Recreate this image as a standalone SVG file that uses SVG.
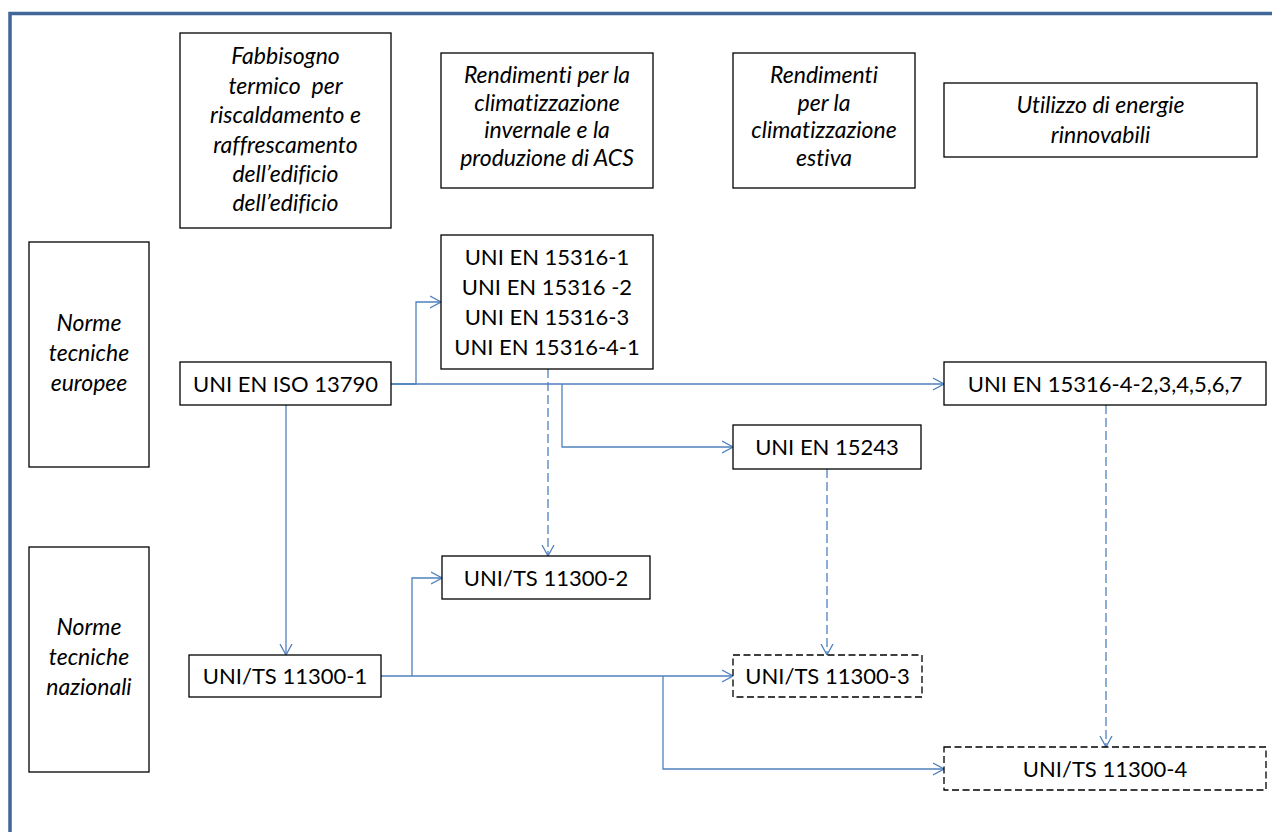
<svg xmlns="http://www.w3.org/2000/svg" width="1272" height="832" viewBox="0 0 1272 832">
  <defs>
    <style>
      .box { fill: #ffffff; stroke: #000000; stroke-width: 1.3; }
      .dbox { fill: #ffffff; stroke: #000000; stroke-width: 1.3; stroke-dasharray: 7 3.5; }
      .it { font-family: Lato, "Liberation Sans", sans-serif; font-style: italic; font-size: 23px; fill: #000000; text-anchor: middle; white-space: pre; font-variant-ligatures: none; font-feature-settings: "liga" 0, "dlig" 0; }
      .tx { font-family: Lato, "Liberation Sans", sans-serif; font-size: 22px; fill: #000000; text-anchor: middle; font-variant-ligatures: none; }
      .con { fill: none; stroke: #4f81bd; stroke-width: 1.3; marker-end: url(#arr); }
      .dash { fill: none; stroke: #4f81bd; stroke-width: 1.3; stroke-dasharray: 9 4; marker-end: url(#arr); }
      .frame { fill: none; stroke: #41669a; stroke-width: 3.5; }
    </style>
    <marker id="arr" markerUnits="userSpaceOnUse" viewBox="0 0 12 14" refX="11.5" refY="7" markerWidth="12" markerHeight="14" orient="auto">
      <path d="M0.5,1 L11.5,7 L0.5,13" fill="none" stroke="#4f81bd" stroke-width="1.3"/>
    </marker>
  </defs>

  <g id="frame">
    <path class="frame" d="M10,832 V13.5 H1272"/>
  </g>

  <g id="connectors">
    <path class="con" d="M391,384 H416 V302 H441"/>
    <path class="con" d="M391,384 H944"/>
    <path class="con" d="M562,384 V447 H733"/>
    <path class="dash" d="M548,369 V556"/>
    <path class="con" d="M286,405 V655"/>
    <path class="con" d="M381,676 H733"/>
    <path class="con" d="M412,676 V578 H442"/>
    <path class="con" d="M663,676 V769 H944"/>
    <path class="dash" d="M827,469 V655"/>
    <path class="dash" d="M1106,405 V747"/>
  </g>

  <g id="h-fabbisogno">
    <rect class="box" x="180" y="33" width="211" height="195"/>
    <text class="it" x="285.5" y="64">Fabbisogno</text>
    <text class="it" x="285.5" y="93.5">termico  per</text>
    <text class="it" x="285.5" y="123">riscaldamento e</text>
    <text class="it" x="285.5" y="152.5">raffrescamento</text>
    <text class="it" x="285.5" y="182">dell’edificio</text>
    <text class="it" x="285.5" y="211">dell’edificio</text>
  </g>

  <g id="h-invernale">
    <rect class="box" x="441" y="53" width="212" height="135"/>
    <text class="it" x="547" y="83">Rendimenti per la</text>
    <text class="it" x="547" y="110.5">climatizzazione</text>
    <text class="it" x="547" y="138">invernale e la</text>
    <text class="it" x="547" y="165.5">produzione di ACS</text>
  </g>

  <g id="h-estiva">
    <rect class="box" x="733" y="53" width="182" height="135"/>
    <text class="it" x="824" y="83">Rendimenti</text>
    <text class="it" x="824" y="110.5">per la</text>
    <text class="it" x="824" y="138">climatizzazione</text>
    <text class="it" x="824" y="165.5">estiva</text>
  </g>

  <g id="h-rinnovabili">
    <rect class="box" x="944" y="83" width="313" height="74"/>
    <text class="it" x="1100.5" y="113">Utilizzo di energie</text>
    <text class="it" x="1100.5" y="143">rinnovabili</text>
  </g>

  <g id="r-europee">
    <rect class="box" x="29" y="242" width="120" height="225"/>
    <text class="it" x="89" y="331">Norme</text>
    <text class="it" x="89" y="361">tecniche</text>
    <text class="it" x="89" y="391">europee</text>
  </g>

  <g id="r-nazionali">
    <rect class="box" x="29" y="547" width="120" height="225"/>
    <text class="it" x="89" y="635">Norme</text>
    <text class="it" x="89" y="665">tecniche</text>
    <text class="it" x="89" y="695">nazionali</text>
  </g>

  <g id="n-iso13790">
    <rect class="box" x="180" y="362" width="211" height="43"/>
    <text class="tx" x="285.5" y="392">UNI EN ISO 13790</text>
  </g>

  <g id="n-15316">
    <rect class="box" x="441" y="235" width="212" height="134"/>
    <text class="tx" x="547" y="265">UNI EN 15316-1</text>
    <text class="tx" x="547" y="295">UNI EN 15316 -2</text>
    <text class="tx" x="547" y="325">UNI EN 15316-3</text>
    <text class="tx" x="547" y="355">UNI EN 15316-4-1</text>
  </g>

  <g id="n-15316-4-2">
    <rect class="box" x="944" y="362" width="322" height="43"/>
    <text class="tx" x="1105" y="392">UNI EN 15316-4-2,3,4,5,6,7</text>
  </g>

  <g id="n-15243">
    <rect class="box" x="733" y="425" width="188" height="44"/>
    <text class="tx" x="827" y="455">UNI EN 15243</text>
  </g>

  <g id="n-11300-2">
    <rect class="box" x="442" y="556" width="208" height="43"/>
    <text class="tx" x="546" y="586">UNI/TS 11300-2</text>
  </g>

  <g id="n-11300-1">
    <rect class="box" x="189" y="655" width="192" height="42"/>
    <text class="tx" x="285" y="684">UNI/TS 11300-1</text>
  </g>

  <g id="n-11300-3">
    <rect class="dbox" x="733" y="655" width="189" height="42"/>
    <text class="tx" x="827.5" y="684">UNI/TS 11300-3</text>
  </g>

  <g id="n-11300-4">
    <rect class="dbox" x="944" y="747" width="322" height="43"/>
    <text class="tx" x="1105" y="777">UNI/TS 11300-4</text>
  </g>
</svg>
